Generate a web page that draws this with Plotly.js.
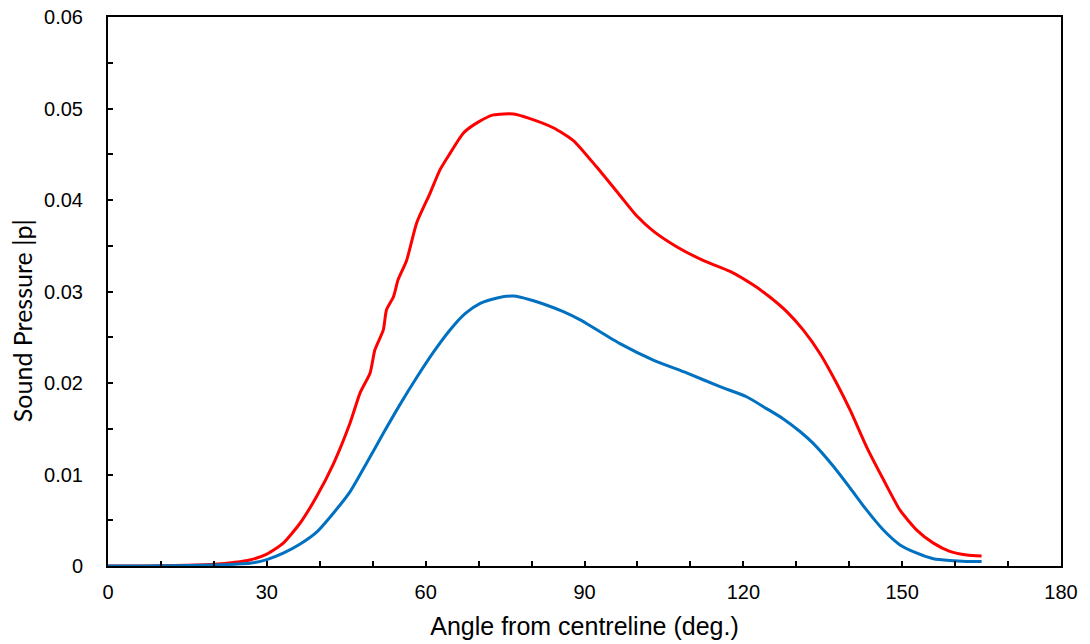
<!DOCTYPE html>
<html>
<head>
<meta charset="utf-8">
<script src="https://cdn.plot.ly/plotly-3.0.1.min.js"></script>
<style>html,body{margin:0;padding:0;background:#fff;}#chart{width:1090px;height:644px;}</style>
</head>
<body>
<div id="chart"></div>
<script>
// Sound pressure vs angle from centreline
const redAngle = [0, 5, 10, 15, 20, 24, 26.8, 30, 33.1, 36.3, 39.4, 42.6, 45.7, 47.6, 49.5, 50.4, 52.0, 52.6, 53.9, 54.8, 56.4, 58.3, 60.8, 62.7, 64.6, 67.1, 69.6, 72.8, 76.6, 79.7, 84.1, 87.9, 92.3, 96.7, 99.8, 103, 107.4, 112.4, 117.5, 121.9, 125.0, 128.2, 131.3, 134.5, 137.6, 140.2, 143.3, 146.5, 149.6, 152.8, 155.9, 159, 162.2, 165];
const redP = [0, 0, 0.00003, 0.00008, 0.00018, 0.0004, 0.00066, 0.0013, 0.0025, 0.0047, 0.0076, 0.0112, 0.0156, 0.0189, 0.0211, 0.0236, 0.0258, 0.028, 0.0294, 0.0313, 0.0334, 0.0375, 0.0407, 0.0433, 0.0451, 0.0473, 0.0484, 0.0493, 0.0494, 0.0489, 0.0479, 0.0465, 0.0436, 0.0405, 0.0383, 0.0366, 0.0349, 0.0334, 0.0322, 0.0307, 0.0294, 0.0278, 0.0258, 0.0232, 0.02, 0.017, 0.013, 0.0094, 0.0061, 0.0039, 0.0025, 0.0016, 0.0012, 0.0011];

const blueAngle = [0, 5, 10, 15, 20, 24, 26.8, 30, 33.1, 36.3, 39.4, 42.6, 45.7, 48.8, 52.0, 55.0, 58.3, 61.5, 64.6, 67.5, 70.3, 73.5, 76.6, 79.7, 82.9, 86.0, 89.2, 96.7, 103, 109.3, 115.6, 120.6, 124.4, 127.5, 130.7, 133.2, 137.0, 140.2, 143.3, 146.5, 149.6, 152.8, 155.9, 159, 162.2, 165];
const blueP = [0, 0, 0.00002, 0.00005, 0.0001, 0.0002, 0.0003, 0.0007, 0.0014, 0.0024, 0.0037, 0.0058, 0.0081, 0.0112, 0.0145, 0.0175, 0.0206, 0.0234, 0.0258, 0.0276, 0.0287, 0.0293, 0.0295, 0.0291, 0.0285, 0.0278, 0.0269, 0.0243, 0.0225, 0.0211, 0.0196, 0.0185, 0.0172, 0.0161, 0.0147, 0.0134, 0.0109, 0.0085, 0.0061, 0.0039, 0.0023, 0.0014, 0.0008, 0.0006, 0.0005, 0.0005];

const xTickVals = [0, 30, 60, 90, 120, 150, 180];
const yTickVals = [0, 0.01, 0.02, 0.03, 0.04, 0.05, 0.06];
const yTickText = ['0', '0.01', '0.02', '0.03', '0.04', '0.05', '0.06'];
const yTitle = 'Sound Pressure |p|';
const xTitle = 'Angle from centreline (deg.)';

const traces = [
  {x: redAngle, y: redP, type: 'scatter', mode: 'lines', name: 'red',
   line: {color: '#FF0000', width: 3, shape: 'spline', smoothing: 0.6}},
  {x: blueAngle, y: blueP, type: 'scatter', mode: 'lines', name: 'blue',
   line: {color: '#0070C0', width: 3, shape: 'spline', smoothing: 0.6}}
];

const tickFont = {family: 'Liberation Sans, Arial, sans-serif', size: 20, color: '#000'};

const layout = {
  width: 1090, height: 644,
  margin: {l: 108, r: 29, t: 17, b: 78},
  paper_bgcolor: '#fff', plot_bgcolor: '#fff',
  showlegend: false,
  xaxis: {
    range: [0, 180], tickvals: xTickVals, ticks: 'inside', ticklen: 5, tickwidth: 2, tickcolor: '#000',
    minor: {dtick: 10, tick0: 0, ticks: 'inside', ticklen: 5, tickwidth: 2, tickcolor: '#000'},
    showgrid: false, zeroline: false, showline: true, linecolor: '#000', linewidth: 2, mirror: true,
    tickfont: tickFont, ticklabelstandoff: 7,
    title: {text: xTitle, font: {family: 'Liberation Sans, Arial, sans-serif', size: 25, color: '#000'}, standoff: 15}
  },
  yaxis: {
    range: [0, 0.06], tickvals: yTickVals, ticktext: yTickText, ticks: 'inside', ticklen: 5, tickwidth: 2, tickcolor: '#000',
    minor: {dtick: 0.005, tick0: 0, ticks: 'inside', ticklen: 5, tickwidth: 2, tickcolor: '#000'},
    showgrid: false, zeroline: false, showline: true, linecolor: '#000', linewidth: 2, mirror: true,
    tickfont: tickFont, ticklabelstandoff: 19
  },
  annotations: [{
    text: yTitle, xref: 'paper', yref: 'paper', x: 0, y: 0.446,
    xanchor: 'center', yanchor: 'middle', xshift: -86, textangle: -90, showarrow: false,
    font: {family: 'Lato, "Open Sans", sans-serif', size: 25, color: '#000'}
  }]
};

Plotly.newPlot('chart', traces, layout, {displayModeBar: false, staticPlot: true});
</script>
</body>
</html>
